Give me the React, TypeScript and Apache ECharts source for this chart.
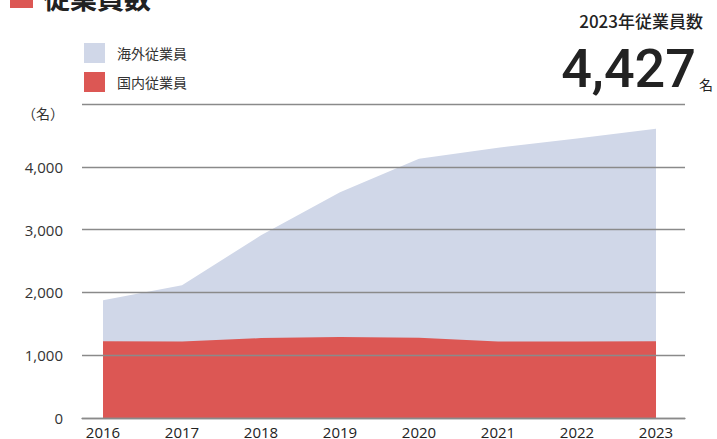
import React, { useEffect, useRef } from "react";
import * as echarts from "echarts";

const years = [2016, 2017, 2018, 2019, 2020, 2021, 2022, 2023];
const domestic = [1224, 1220, 1272, 1288, 1277, 1219, 1219, 1224];
const overseas = [652, 894, 1637, 2305, 2852, 3085, 3233, 3382];
const yTicks = [0, 1000, 2000, 3000, 4000, 5000];
const seriesNames = ["海外従業員", "国内従業員"];
const headline = "4,427";
const headlineTitle = "2023年従業員数";

const RED = "#DC5754";
const BLUE = "#D0D7E8";
const GRID = "#8a8a8a";
const TEXT = "#333333";

export default function App() {
  const ref = useRef<HTMLDivElement>(null);
  useEffect(() => {
    if (!ref.current) return;
    const chart = echarts.init(ref.current, null, { renderer: "svg" });
    const totalData = years.map((y, i) => [y, domestic[i] + overseas[i]]);
    const domData = years.map((y, i) => [y, domestic[i]]);
    chart.setOption({
      animation: false,
      textStyle: { fontFamily: "'Noto Sans CJK JP', 'Open Sans', sans-serif" },
      grid: { left: 82, right: 32, top: 104, bottom: 20, containLabel: false },
      legend: {
        orient: "vertical",
        left: 84,
        top: 43,
        padding: 0,
        itemWidth: 21,
        itemHeight: 20,
        itemGap: 9,
        icon: "rect",
        data: seriesNames,
        selectedMode: false,
        textStyle: { fontSize: 14, color: TEXT, padding: [0, 0, 0, 7], fontFamily: "'Noto Sans CJK JP', sans-serif" },
      },
      xAxis: {
        type: "value",
        min: 2015.734,
        max: 2023.367,
        z: 5,
        axisLine: { show: true, lineStyle: { color: GRID, width: 1.3 } },
        axisTick: { show: false },
        splitLine: { show: false },
        axisLabel: {
          customValues: years,
          formatter: (v: number) => String(Math.round(v)),
          color: "#222",
          fontSize: 15,
          lineHeight: 15,
          margin: 6,
          fontFamily: "'Open Sans', sans-serif",
        },
      },
      yAxis: {
        type: "value",
        min: 0,
        max: 5000,
        interval: 1000,
        z: 5,
        axisLine: { show: false },
        axisTick: { show: false },
        splitLine: { show: true, lineStyle: { color: GRID, width: 1.3 } },
        axisLabel: {
          customValues: yTicks.slice(0, 5),
          formatter: (v: number) => (v === 5000 ? "" : v.toLocaleString("en-US")),
          color: TEXT,
          fontSize: 15,
          margin: 19,
          fontFamily: "'Open Sans', sans-serif",
        },
      },
      series: [
        {
          name: seriesNames[0],
          type: "line",
          data: totalData,
          symbol: "none",
          z: 1,
          lineStyle: { width: 0, color: BLUE },
          itemStyle: { color: BLUE },
          areaStyle: { color: BLUE, opacity: 1 },
        },
        {
          name: seriesNames[1],
          type: "line",
          data: domData,
          symbol: "none",
          z: 2,
          lineStyle: { width: 0, color: RED },
          itemStyle: { color: RED },
          areaStyle: { color: RED, opacity: 1 },
        },
      ],
      graphic: [
        { type: "rect", shape: { x: 10, y: -10, width: 23, height: 18 }, style: { fill: RED } },
        {
          type: "text",
          x: 43,
          y: 11,
          style: {
            text: "従業員数",
            fontSize: 27,
            fontWeight: "bold",
            fill: "#222",
            verticalAlign: "bottom",
            fontFamily: "'Noto Sans CJK JP', sans-serif",
          },
        },
        {
          type: "text",
          x: 703,
          y: 20,
          style: {
            text: headlineTitle,
            fontSize: 17,
            fontWeight: 500,
            fill: "#222",
            align: "right",
            verticalAlign: "middle",
            fontFamily: "'Noto Sans CJK JP', sans-serif",
          },
        },
        {
          type: "text",
          x: 696,
          y: 95,
          style: {
            text: headline,
            fontSize: 54,
            fontWeight: 500,
            fill: "#222",
            align: "right",
            verticalAlign: "bottom",
            fontFamily: "Roboto, sans-serif",
          },
        },
        {
          type: "text",
          x: 699,
          y: 84,
          style: {
            text: "名",
            fontSize: 14,
            fill: "#222",
            align: "left",
            verticalAlign: "middle",
            fontFamily: "'Noto Sans CJK JP', sans-serif",
          },
        },
        {
          type: "text",
          x: 22,
          y: 113,
          style: {
            text: "（名）",
            fontSize: 14,
            fill: TEXT,
            align: "left",
            verticalAlign: "middle",
            fontFamily: "'Noto Sans CJK JP', sans-serif",
          },
        },
      ],
    });
    return () => chart.dispose();
  }, []);
  return (
    <div
      ref={ref}
      style={{ position: "fixed", left: 0, top: 0, width: 717, height: 439, background: "#fff" }}
    />
  );
}
